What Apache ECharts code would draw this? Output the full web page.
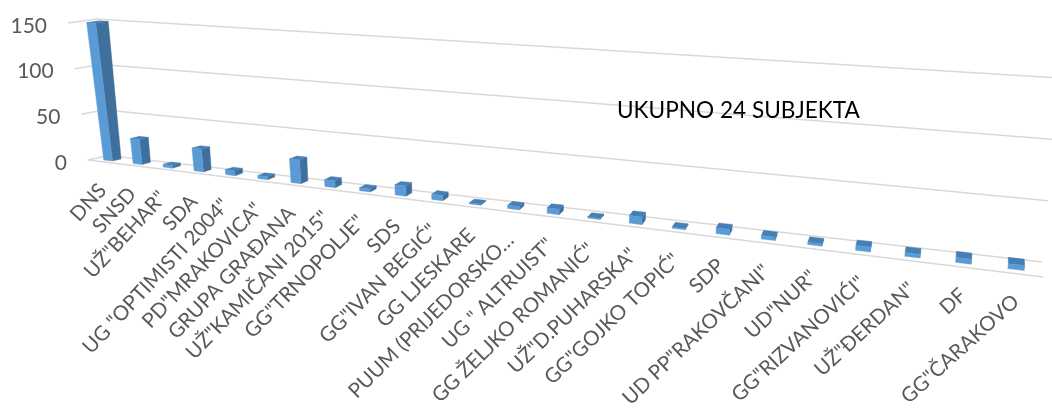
<!DOCTYPE html>
<html><head><meta charset="utf-8">
<style>html,body{margin:0;padding:0;background:#fff}#c{width:1052px;height:408px}</style>
<script src="https://cdn.jsdelivr.net/npm/echarts@6/dist/echarts.min.js"></script>
</head><body><div id="c"></div>
<script>
const categories = ['DNS','SNSD','UŽ"BEHAR"','SDA','UG "OPTIMISTI 2004"','PD"MRAKOVICA"','GRUPA GRAĐANA','UŽ"KAMIČANI 2015"','GG"TRNOPOLJE"','SDS','GG"IVAN BEGIĆ"','GG LJESKARE','PUUM (PRIJEDORSKO…','UG " ALTRUIST"','GG ŽELJKO ROMANIĆ"','UŽ"D.PUHARSKA"','GG"GOJKO TOPIĆ"','SDP','UD PP"RAKOVČANI"','UD"NUR"','GG"RIZVANOVIĆI"','UŽ"ĐERDAN"','DF','GG"ČARAKOVO'];
const values = [150,27,3,24,5,3,24,7,3,10,5,1,3,5,1,7,1,5,3,2,4,3,4,4];
const valueTicks = [0,50,100,150];
const note = 'UKUPNO 24 SUBJEKTA';

// Oblique view: where the corners of the plot box appear on the page.
const box = {
  floorFront:[[88,160],[1043,277]],
  floorBack:[[108,155.5],[1042,262]],
  topFront:[[68,23],[1062,88]],
  topBack:[[97,19],[1060,78]]
};
const PERSPECTIVE_X=-0.27;
const mix=(a,b,t)=>[a[0]+(b[0]-a[0])*t,a[1]+(b[1]-a[1])*t];
function project(X,Y,Z){
  const s=X*(1+PERSPECTIVE_X)/(1+PERSPECTIVE_X*X);
  const ff=mix(box.floorFront[0],box.floorFront[1],s), fb=mix(box.floorBack[0],box.floorBack[1],s);
  const tf=mix(box.topFront[0],box.topFront[1],s), tb=mix(box.topBack[0],box.topBack[1],s);
  return mix(mix(ff,fb,Z),mix(tf,tb,Z),Y);
}
function unit(params,p){
  const s=params.coordSys;
  return [(p[0]-s.x)/s.width,(s.y+s.height-p[1])/s.height];
}
const BAR_W=0.30, Z0=0.28, Z1=0.72;
const FRONT='#5b9bd5', SIDE='#3f6f9c', TOP='#467fb4', GRIDC='#d9d9d9', TEXT='#595959';

function poly(points,color){
  return {type:'polygon',shape:{points},style:{fill:color,stroke:color,lineWidth:0.4}};
}
function renderBar(params,api){
  const c=unit(params,api.coord([api.value(0),api.value(1)]));
  const hw=api.size([1,0])[0]/params.coordSys.width*BAR_W/2;
  const L=c[0]-hw,R=c[0]+hw,H=c[1];
  return {type:'group',children:[
    poly([project(R,0,Z0),project(R,H,Z0),project(R,H,Z1),project(R,0,Z1)],SIDE),
    poly([project(L,H,Z0),project(R,H,Z0),project(R,H,Z1),project(L,H,Z1)],TOP),
    poly([project(L,0,Z0),project(R,0,Z0),project(R,H,Z0),project(L,H,Z0)],FRONT)
  ]};
}
function renderTick(params,api){
  const v=unit(params,api.coord([0,api.value(0)]))[1];
  const pts=[project(0,v,0),project(0,v,1),project(1,v,1)];
  const kids=[{type:'polyline',shape:{points:pts},style:{fill:null,stroke:GRIDC,lineWidth:1.5}}];
  if(api.value(0)===0){
    const e=project(1,0,0);
    kids.push({type:'line',shape:{x1:pts[0][0],y1:pts[0][1],x2:e[0],y2:e[1]},style:{stroke:GRIDC,lineWidth:1.5}});
  }
  kids.push({type:'text',x:pts[0][0]-21,y:pts[0][1]+3,style:{text:String(api.value(0)),align:'right',verticalAlign:'middle',fill:TEXT,font:'21px Lato'}});
  return {type:'group',children:kids};
}
function renderLabel(params,api){
  const i=api.value(0);
  const c=unit(params,api.coord([i,0]));
  const p=project(c[0],0,0);
  const deg=48-6*c[0];
  return {type:'text',x:p[0],y:p[1]+25,rotation:deg*Math.PI/180,style:{text:categories[i],align:'right',verticalAlign:'middle',fill:TEXT,font:'20.5px Lato'}};
}
const chart=echarts.init(document.getElementById('c'),null,{renderer:'canvas'});
chart.setOption({
  animation:false,
  title:{text:note,left:612,top:94,textStyle:{color:'#000',fontSize:22.6,fontWeight:'normal',fontFamily:'Lato'}},
  grid:{left:0,right:0,top:0,bottom:0},
  xAxis:{type:'category',data:categories,show:false},
  yAxis:{type:'value',min:0,max:150,show:false},
  series:[
    {type:'custom',renderItem:renderTick,data:valueTicks.map(v=>[v]),encode:{y:0},silent:true,z:1},
    {type:'custom',renderItem:renderBar,data:values.map((v,i)=>[i,v]),encode:{x:0,y:1},z:2},
    {type:'custom',renderItem:renderLabel,data:categories.map((n,i)=>[i]),encode:{x:0},silent:true,z:3}
  ]
});
</script></body></html>
